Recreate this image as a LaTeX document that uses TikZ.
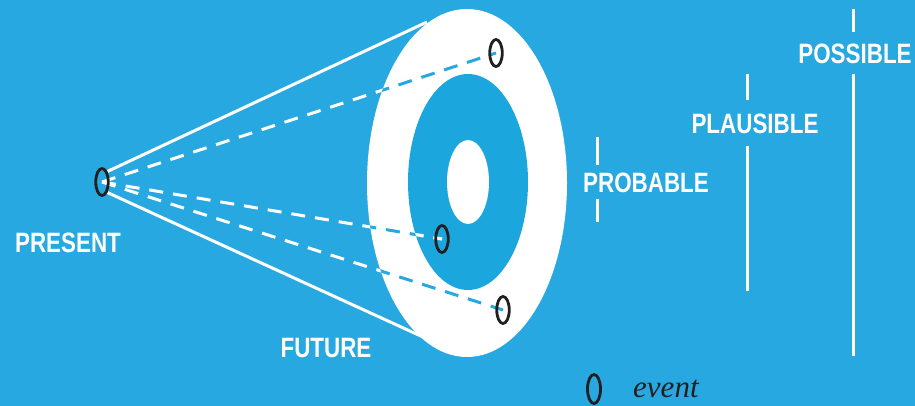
\documentclass[tikz,border=0pt]{standalone}
\usepackage{fontspec}
\usetikzlibrary{shapes.geometric,backgrounds}
\newfontfamily\labelfont[FakeStretch=0.8]{Liberation Sans}
\newfontfamily\keyfont{Liberation Serif}
\definecolor{Sky}{HTML}{27A8E0}
\definecolor{DeepSky}{HTML}{1CA6DE}
\definecolor{Ink}{HTML}{231F20}
\newcommand\drawrays[1]{%
  \draw[ray,#1] (present.center) -- (top.center);
  \draw[ray,#1] (present.center) -- (mid.center);
  \draw[ray,#1] (present.center) -- (low.center);}

\begin{document}
\begin{tikzpicture}[x=1pt,y=-1pt,
  event/.style={ellipse,draw=Ink,line width=2.8pt,minimum width=12.5pt,minimum height=27pt,inner sep=0pt},
  tag/.style={text=white,font=\labelfont\bfseries\fontsize{28}{28}\selectfont,inner sep=0pt},
  bar/.style={white,line width=3pt},
  rim/.style={white,line width=3pt},
  ray/.style={line width=3pt,dash pattern=on 14pt off 10pt}]
\useasboundingbox (0,0) rectangle (915,406);
% events
\node[event] (present) at (102,182) {};
\node[event] (top) at (496,53) {};
\node[event] (mid) at (442,239) {};
\node[event] (low) at (503,310) {};
\node[event,minimum width=13pt,minimum height=29pt] (key) at (594,389) {};
\node[anchor=base west,font=\keyfont\itshape\fontsize{31}{31}\selectfont,text=Ink,inner sep=0pt] (keytext) at (633,397) {event};
% labels
\node[tag] (now) at (68,243) {PRESENT};
\node[tag] (future) at (326,348) {FUTURE};
\node[tag] (probable) at (646,183) {PROBABLE};
\node[tag] (plausible) at (755,124) {PLAUSIBLE};
\node[tag] (possible) at (855,54) {POSSIBLE};
\coordinate (upper) at (427,22);
\coordinate (lower) at (423,337);
\begin{pgfonlayer}{background}
\fill[Sky] (0,0) rectangle (915,406);
\fill[white] (467,183) ellipse [x radius=100pt,y radius=174pt];
\fill[DeepSky] (468,182) ellipse [x radius=60pt,y radius=108pt];
\fill[white] (468,182) ellipse [x radius=21pt,y radius=42pt];
\draw[rim] (present.north east) -- (upper);
\draw[rim] (present.south east) -- (lower);
\drawrays{white}
\begin{scope}
\clip (467,183) ellipse [x radius=100pt,y radius=174pt];
\drawrays{Sky}
\clip (468,182) ellipse [x radius=60pt,y radius=108pt];
\drawrays{white}
\end{scope}
\end{pgfonlayer}
% scale bars
\draw[bar] (597,137) -- (597,165) (597,199) -- (597,222);
\draw[bar] (747,74) -- (747,100) (747,146) -- (747,291);
\draw[bar] (853,9) -- (853,32) (853,74) -- (853,356);
\end{tikzpicture}
\end{document}
